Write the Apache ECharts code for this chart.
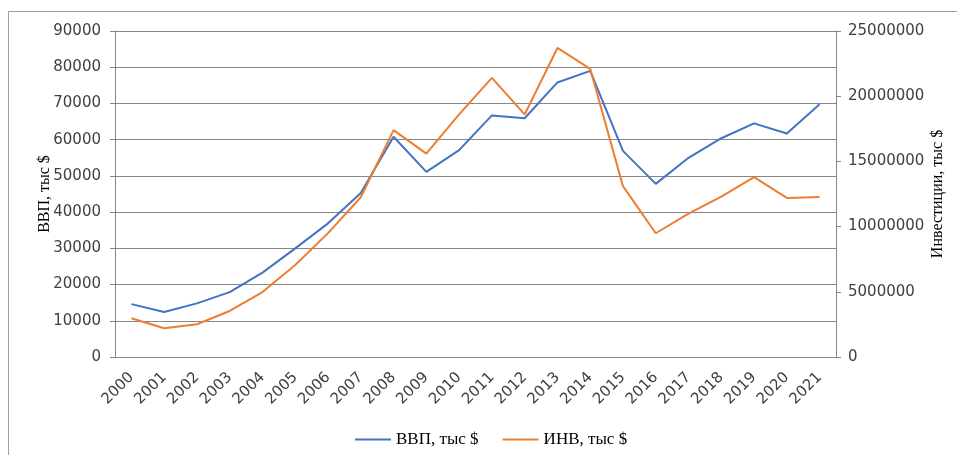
<!DOCTYPE html>
<html lang="ru">
<head>
    <meta charset="UTF-8">
    <script src="https://cdn.jsdelivr.net/npm/echarts@6/dist/echarts.min.js"></script>
    <style>
        html, body { margin: 0; padding: 0; background: #fff; }
        #chart { width: 957px; height: 455px; }
    </style>
</head>
<body>
<div id="chart"></div>
<script>
    // годы
    let years = ['2000','2001','2002','2003','2004','2005','2006','2007','2008','2009','2010',
                 '2011','2012','2013','2014','2015','2016','2017','2018','2019','2020','2021'];
    // ВВП, тыс $
    let gdp = [14600, 12400, 14800, 17900, 23300, 30000, 36900, 45300, 60800, 51100, 57100,
               66700, 65900, 75800, 79000, 56900, 47800, 55000, 60400, 64500, 61700, 69800];
    // Инвестиции, тыс $
    let inv = [2970000, 2200000, 2510000, 3530000, 4980000, 7060000, 9500000, 12250000, 17400000, 15600000, 18600000,
               21400000, 18600000, 23700000, 22100000, 13100000, 9490000, 11000000, 12300000, 13800000, 12200000, 12270000];

    let gray = '#868686';
    let tickFont = { fontFamily: 'DejaVu Sans', fontSize: 15, color: '#404040' };
    let plain = function (v) { return String(v); };

    let myChart = echarts.init(document.getElementById('chart'));
    myChart.setOption({
        animation: false,
        graphic: [{
            type: 'rect',
            shape: { x: 8.5, y: 11.5, width: 960, height: 460 },
            style: { fill: 'none', stroke: '#a0a0a0', lineWidth: 1 }
        }],
        grid: { left: 115, top: 31, right: 121, bottom: 98, outerBoundsMode: 'none' },
        legend: {
            top: 426,
            left: 350,
            icon: 'rect',
            itemWidth: 36,
            itemHeight: 2,
            itemGap: 24,
            textStyle: { fontFamily: 'Liberation Serif', fontSize: 17, color: '#000' },
            data: ['ВВП, тыс $', 'ИНВ, тыс $']
        },
        xAxis: {
            type: 'category',
            data: years,
            boundaryGap: true,
            axisLine: { lineStyle: { color: gray } },
            axisTick: { length: 5, lineStyle: { color: gray } },
            axisLabel: Object.assign({ rotate: 45, margin: 18, interval: 0 }, tickFont)
        },
        yAxis: [{
            type: 'value',
            min: 0, max: 90000, interval: 10000,
            name: 'ВВП, тыс $',
            nameLocation: 'middle',
            nameRotate: 90,
            nameGap: 62,
            nameMoveOverlap: false,
            nameTextStyle: { fontFamily: 'Liberation Serif', fontSize: 16, color: '#000' },
            axisLine: { show: true, lineStyle: { color: gray } },
            axisTick: { show: true, length: 5, lineStyle: { color: gray } },
            axisLabel: Object.assign({ margin: 14, formatter: plain }, tickFont),
            splitLine: { lineStyle: { color: gray } }
        }, {
            type: 'value',
            position: 'right',
            min: 0, max: 25000000, interval: 5000000,
            name: 'Инвестиции, тыс $',
            nameLocation: 'middle',
            nameRotate: 90,
            nameGap: 94,
            nameMoveOverlap: false,
            nameTextStyle: { fontFamily: 'Liberation Serif', fontSize: 16, color: '#000' },
            axisLine: { show: true, lineStyle: { color: gray } },
            axisTick: { show: true, length: 5, lineStyle: { color: gray } },
            axisLabel: Object.assign({ margin: 12, formatter: plain }, tickFont),
            splitLine: { show: false }
        }],
        series: [{
            name: 'ВВП, тыс $',
            type: 'line',
            yAxisIndex: 0,
            data: gdp,
            symbol: 'none',
            color: '#4472C4',
            lineStyle: { width: 2 }
        }, {
            name: 'ИНВ, тыс $',
            type: 'line',
            yAxisIndex: 1,
            data: inv,
            symbol: 'none',
            color: '#ED7D31',
            lineStyle: { width: 2 }
        }]
    });
</script>
</body>
</html>
